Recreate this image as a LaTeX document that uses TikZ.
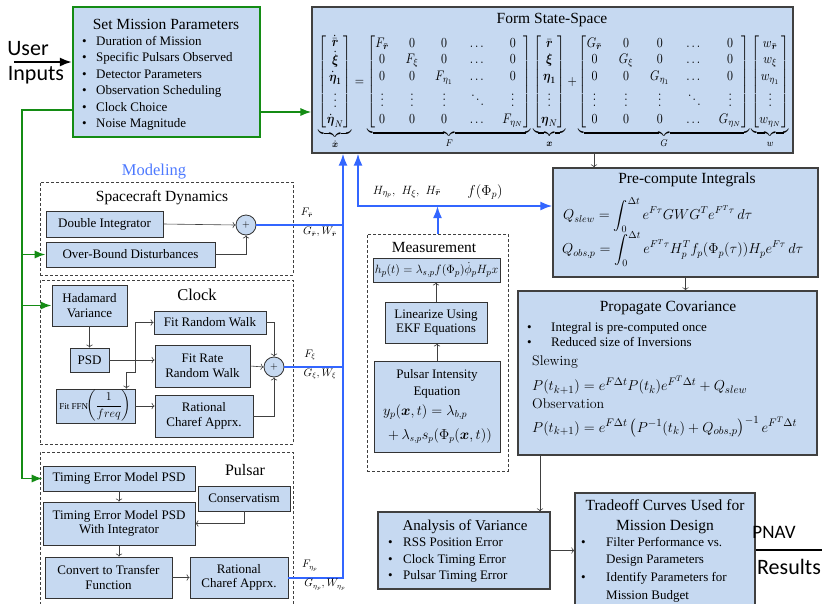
\documentclass[tikz,border=0pt]{standalone}
\usepackage{amsmath}
\usepackage{amssymb}
\usepackage{graphicx}
\usepackage{fontspec}
\newfontfamily\tnr{Liberation Serif}
\newfontfamily\sanslbl{Carlito}
\usetikzlibrary{arrows.meta,positioning,calc}

\definecolor{boxfill}{RGB}{198,217,241}
\definecolor{busblue}{RGB}{51,102,255}
\definecolor{grnline}{RGB}{20,140,20}
\definecolor{modblue}{RGB}{77,121,255}

\newcommand{\bitem}[2][14pt]{\makebox[#1][l]{\textbullet}#2}

\begin{document}
\begin{tikzpicture}[x=1pt,y=-1pt,>=Latex,
  blk/.style={draw=black!80,fill=boxfill,line width=0.8pt,align=center,inner sep=1pt,
    font=\tnr\fontsize{13}{14.5}\selectfont},
  bigblk/.style={draw=black!75,fill=boxfill,line width=1.2pt,inner sep=0pt},
  grp/.style={draw=black!75,line width=0.6pt,dash pattern=on 3pt off 2pt,inner sep=0pt},
  ttl/.style={font=\tnr\fontsize{15.5}{20}\selectfont,inner sep=0pt,align=center},
  txt/.style={font=\tnr\fontsize{13}{16.5}\selectfont,inner sep=0pt,align=left,anchor=west},
  arr/.style={draw=black!75,line width=0.6pt,-{To[length=3pt]}},
  bus/.style={draw=busblue,line width=2pt},
  grn/.style={draw=grnline,line width=1.8pt},
  sumc/.style={circle,draw=black!80,fill=boxfill,minimum size=20pt,inner sep=0pt,line width=0.8pt},
  lbl/.style={font=\fontsize{10.5}{11}\selectfont,inner sep=0pt},
  big/.style={font=\sanslbl\fontsize{22}{24}\selectfont,inner sep=0pt}]
\useasboundingbox (0,0) rectangle (822,603);

% mission parameters
\node[big] (user) at (28,49) {User};
\node[big] (inputs) at (36,75) {Inputs};
\node[bigblk,draw=grnline,line width=2.2pt,minimum width=187pt,minimum height=130pt] (smp) at (166.5,72) {};
\node[ttl] (smpt) at (166,24) {Set Mission Parameters};
\node[txt] (smpl) at (82,83.5) {\bitem{Duration of Mission}\\ \bitem{Specific Pulsars Observed}\\
  \bitem{Detector Parameters}\\ \bitem{Observation Scheduling}\\ \bitem{Clock Choice}\\ \bitem{Noise Magnitude}};
\coordinate (uin) at (14,62);
\draw[line width=2pt,-{Latex}] (uin) -- (uin -| smp.west);

% state space
\node[bigblk,minimum width=481pt,minimum height=146pt] (fss) at (552.5,80) {};
\node[ttl] (fsst) at (552,20) {Form State-Space};
\node[inner sep=0pt] (fsseq) at (554,92) {\resizebox*{470pt}{114pt}{$\displaystyle
  \setlength{\arraycolsep}{7pt}
  \underbrace{\begin{bmatrix}\dot{\bar{\boldsymbol r}}\\ \dot{\boldsymbol\xi}\\ \dot{\boldsymbol\eta}_{\mathbf 1}\\ \vdots\\ \dot{\boldsymbol\eta}_N\end{bmatrix}}_{\dot{\boldsymbol x}}
  =
  \underbrace{\begin{bmatrix} F_{\bar{\boldsymbol r}} & 0 & 0 & \dots & 0\\ 0 & F_\xi & 0 & \dots & 0\\ 0 & 0 & F_{\eta_1} & \dots & 0\\ \vdots & \vdots & \vdots & \ddots & \vdots\\ 0 & 0 & 0 & \dots & F_{\eta_N}\end{bmatrix}}_{F}
  \underbrace{\begin{bmatrix}\bar{\boldsymbol r}\\ \boldsymbol\xi\\ \boldsymbol\eta_{\mathbf 1}\\ \vdots\\ \boldsymbol\eta_N\end{bmatrix}}_{\boldsymbol x}
  +
  \underbrace{\begin{bmatrix} G_{\bar{\boldsymbol r}} & 0 & 0 & \dots & 0\\ 0 & G_\xi & 0 & \dots & 0\\ 0 & 0 & G_{\eta_1} & \dots & 0\\ \vdots & \vdots & \vdots & \ddots & \vdots\\ 0 & 0 & 0 & \dots & G_{\eta_N}\end{bmatrix}}_{G}
  \underbrace{\begin{bmatrix} w_{\bar{\boldsymbol r}}\\ w_\xi\\ w_{\eta_1}\\ \vdots\\ w_{\eta_N}\end{bmatrix}}_{w}$}};
\coordinate (gy) at (0,112);
\draw[grn,-{Latex}] (smp.east |- gy) -- (fss.west |- gy);

% modeling: spacecraft
\node[ttl,text=modblue,font=\tnr\fontsize{16.5}{18}\selectfont] (modl) at (154,172) {Modeling};
\node[grp,minimum width=253pt,minimum height=93pt] (scd) at (166.5,228.5) {};
\node[ttl] (scdt) at (162,198) {Spacecraft Dynamics};
\node[blk,minimum width=117pt,minimum height=26pt] (dint) at (104.5,224) {Double Integrator};
\node[blk,minimum width=169pt,minimum height=25pt] (obd) at (130.5,254.5) {Over-Bound Disturbances};
\node[sumc] (sum1) at (246,225) {$+$};
\draw[arr] (dint.east) -- (sum1.west);
\draw[arr] (obd.east) -| (sum1.south);

% modeling: clock
\node[grp,minimum width=253pt,minimum height=164pt] (clk) at (166.5,362) {};
\node[ttl,font=\tnr\fontsize{16.5}{18}\selectfont] (clkt) at (197,295) {Clock};
\node[blk,minimum width=75pt,minimum height=41pt] (hv) at (89.5,305.5) {Hadamard\\Variance};
\node[blk,minimum width=39pt,minimum height=24pt] (psd) at (89.5,360) {PSD};
\node[blk,minimum width=79pt,minimum height=34pt,inner sep=0pt] (ffn) at (95.5,406) {{\fontsize{9}{10}\selectfont Fit FFN}$\!\left(\dfrac{1}{freq}\right)$};
\node[blk,minimum width=112pt,minimum height=23pt] (frw) at (210,322.5) {Fit Random Walk};
\node[blk,minimum width=95pt,minimum height=42pt] (frrw) at (202.5,366) {Fit Rate\\Random Walk};
\node[blk,minimum width=98pt,minimum height=42pt] (rca1) at (204,416) {Rational\\Charef Apprx.};
\node[sumc] (sum2) at (274,367) {$+$};
\coordinate (jn) at (135,360);
\draw[arr] (hv.south) -- (psd.north);
\draw[arr] (psd.east) -- (psd.east -| frrw.west);
\draw[arr] (jn) |- (frw.west);
\draw[arr] (jn) -- ++(0,12) -| ([xshift=-9pt]ffn.north east);
\draw[arr] (ffn.east) -- (ffn.east -| rca1.west);
\draw[arr] (frw.east) -| (sum2.north);
\draw[arr] (frrw.east) -- (sum2.west);
\draw[arr] (rca1.east) -| (sum2.south);

% modeling: pulsar
\node[grp,minimum width=253pt,minimum height=154pt] (psr) at (166.5,529) {};
\node[ttl,font=\tnr\fontsize{16}{18}\selectfont] (psrt) at (245,470) {Pulsar};
\node[blk,minimum width=152pt,minimum height=25pt] (tem) at (119,478.5) {Timing Error Model PSD};
\node[blk,minimum width=92pt,minimum height=25pt] (cons) at (244,498.5) {Conservatism};
\node[blk,minimum width=152pt,minimum height=43pt] (temi) at (119,523.5) {Timing Error Model PSD\\With Integrator};
\node[blk,minimum width=127pt,minimum height=41pt] (ctf) at (108.5,577.5) {Convert to Transfer\\Function};
\node[blk,minimum width=98pt,minimum height=41pt] (rca2) at (239,577.5) {Rational\\Charef Apprx.};
\draw[arr] (tem.south) -- (tem.south |- temi.north);
\draw[arr] (cons.south) |- (temi.east);
\draw[arr] (temi.south) -- (temi.south |- ctf.north);
\draw[arr] (ctf.east) -- (ctf.east -| rca2.west);

% green inputs
\coordinate (gx) at (22,110);
\draw[grn,-{Latex}] (smp.west |- gx) -| (gx |- tem.west) -- (tem.west);
\draw[grn,-{Latex}] (gx |- obd.west) -- (obd.west);
\draw[grn,-{Latex}] (gx |- hv.west) -- (hv.west);

% model bus
\coordinate (busx) at (343,0);
\draw[bus] (sum1.east) -- (sum1.east -| busx);
\draw[bus] (sum2.east) -- (sum2.east -| busx);
\draw[bus,-{Latex}] (rca2.east) -| (busx |- fss.south);
\node[lbl] (fr) at (307,213) {$F_{\bar{\boldsymbol r}}$};
\node[lbl] (gr) at (320,232) {$G_{\bar{\boldsymbol r}}, W_{\bar{\boldsymbol r}}$};
\node[lbl] (fxi) at (310,355) {$F_{\xi}$};
\node[lbl] (gxi) at (320,374) {$G_{\xi}, W_{\xi}$};
\node[lbl] (feta) at (310,566) {$F_{\eta_p}$};
\node[lbl] (geta) at (325,585) {$G_{\eta_p}, W_{\eta_p}$};

% measurement
\node[grp,minimum width=141pt,minimum height=237pt] (meas) at (437.5,352.5) {};
\node[ttl] (meast) at (434,247) {Measurement};
\node[blk,minimum width=127pt,minimum height=24pt,inner sep=0pt] (hp) at (436.5,270) {\fontsize{12.5}{13}\selectfont$h_p(t) = \lambda_{s,p} f(\Phi_p)\dot{\phi}_p H_p x$};
\node[blk,minimum width=102pt,minimum height=41pt] (lin) at (436,322.5) {Linearize Using\\EKF Equations};
\node[blk,minimum width=126pt,minimum height=91pt] (pie) at (437,406.5) {};
\node[blk,draw=none,fill=none,inner sep=0pt,font=\tnr\fontsize{13}{17}\selectfont] (piet) at (437,384) {Pulsar Intensity\\Equation};
\node[txt,font=\fontsize{14}{16}\selectfont] (pie1) at (383,412) {$y_p(\boldsymbol x,t) = \lambda_{b,p}$};
\node[txt,font=\fontsize{13.3}{16}\selectfont] (pie2) at (388,436) {$+\,\lambda_{s,p}s_p(\Phi_p(\boldsymbol x,t))$};
\draw[arr] (pie.north) -- (pie.north |- lin.south);
\draw[arr] (lin.north) -- (lin.north |- hp.south);

% precompute
\node[bigblk,minimum width=265pt,minimum height=109pt] (pci) at (685.5,222.5) {};
\node[ttl] (pcit) at (687,180) {Pre-compute Integrals};
\node[txt,font=\fontsize{14}{15}\selectfont] (pci1) at (563,215) {$\displaystyle Q_{slew} = \int_0^{\Delta t} e^{F\tau}GWG^T e^{F^T\tau}\,d\tau$};
\node[txt,font=\fontsize{14}{15}\selectfont] (pci2) at (562,249) {$\displaystyle Q_{obs,p} = \int_0^{\Delta t} e^{F^T\tau}H_p^T f_p(\Phi_p(\tau))H_p e^{F\tau}\,d\tau$};
\coordinate (hbus) at (358,206);
\draw[bus,{Latex}-{Latex}] (fss.south -| hbus) |- (pci.west |- hbus);
\draw[bus,-{Latex}] (meas.north) -- (meas.north |- hbus);
\node[lbl,font=\fontsize{13}{14}\selectfont] (hlbl) at (407,192) {$H_{\eta_p},\ H_\xi,\ H_{\bar{\boldsymbol r}}$};
\node[lbl,font=\fontsize{14}{15}\selectfont] (flbl) at (485,192) {$f(\Phi_p)$};
\coordinate (pcx) at (594,0);
\draw[arr] (fss.south -| pcx) -- (pcx |- pci.north);

% covariance
\node[bigblk,minimum width=299pt,minimum height=164pt] (pcov) at (667.5,373) {};
\node[ttl] (pcovt) at (668,308) {Propagate Covariance};
\node[txt,font=\tnr\fontsize{13}{15.5}\selectfont] (pcovl) at (527,334.5) {\bitem[24pt]{Integral is pre-computed once}\\ \bitem[24pt]{Reduced size of Inversions}};
\node[txt,font=\fontsize{14}{15}\selectfont] (slew) at (532,362) {Slewing};
\node[txt,font=\fontsize{15.3}{17}\selectfont] (pcov1) at (532,385) {$P(t_{k+1}) = e^{F\Delta t}P(t_k)e^{F^T\Delta t} + Q_{slew}$};
\node[txt,font=\fontsize{14}{15}\selectfont] (obsv) at (532,404) {Observation};
\node[txt,font=\fontsize{15.3}{17}\selectfont] (pcov2) at (532,427) {$P(t_{k+1}) = e^{F\Delta t}\left(P^{-1}(t_k) + Q_{obs,p}\right)^{-1}e^{F^T\Delta t}$};
\draw[arr] (pci.south) -- (pci.south |- pcov.north);

% results
\node[bigblk,minimum width=172pt,minimum height=77pt] (aov) at (464,550.5) {};
\node[ttl,font=\tnr\fontsize{15}{18}\selectfont] (aovt) at (465,527) {Analysis of Variance};
\node[txt] (aovl) at (388,560.5) {\bitem[15pt]{RSS Position Error}\\ \bitem[15pt]{Clock Timing Error}\\ \bitem[15pt]{Pulsar Timing Error}};
\node[bigblk,minimum width=180pt,minimum height=117pt] (toc) at (665,551.5) {};
\node[ttl] (toct) at (665,517) {Tradeoff Curves Used for\\Mission Design};
\node[txt,font=\tnr\fontsize{13}{17.7}\selectfont] (tocl) at (581,569.5) {\bitem[25pt]{Filter Performance vs.}\\ \hspace*{25pt}Design Parameters\\
  \bitem[25pt]{Identify Parameters for}\\ \hspace*{25pt}Mission Budget};
\coordinate (pax) at (540,0);
\draw[arr] (pcov.south -| pax) -- (pax |- aov.north);
\draw[arr] (aov.east) -- (aov.east -| toc.west);
\coordinate (pnav) at (822,550);
\draw[line width=2pt] (toc.east |- pnav) -- (pnav);
\node[big,font=\sanslbl\fontsize{19}{21}\selectfont] (pnavt) at (774,532) {PNAV};
\node[big] (rest) at (789,567) {Results};
\end{tikzpicture}
\end{document}
